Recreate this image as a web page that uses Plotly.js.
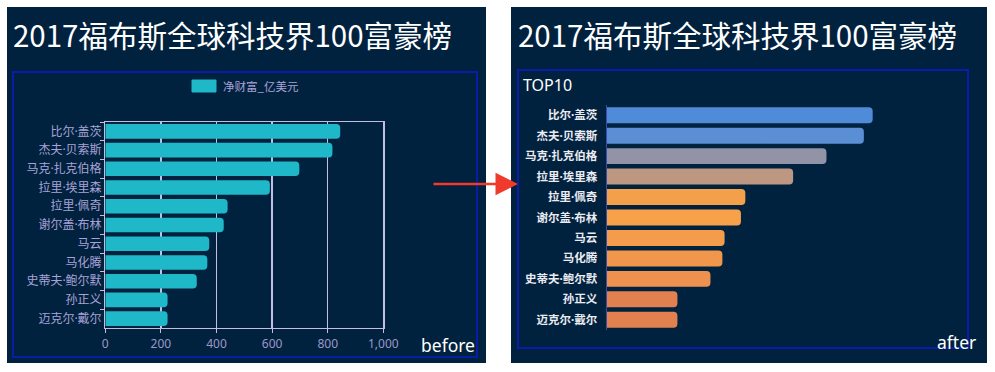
<!DOCTYPE html>
<html>
<head>
<meta charset="utf-8">
<script src="https://cdn.plot.ly/plotly-3.0.1.min.js"></script>
<style>html,body{margin:0;padding:0;background:#fff;}#chart{width:995px;height:372px;}</style>
</head>
<body>
<div id="chart"></div>
<script>
// ---- data ----
const names = ['比尔·盖茨','杰夫·贝索斯','马克·扎克伯格','拉里·埃里森','拉里·佩奇','谢尔盖·布林','马云','马化腾','史蒂夫·鲍尔默','孙正义','迈克尔·戴尔'];
const wealth = [845, 817, 698, 592, 440, 426, 374, 367, 329, 224, 224];
const seriesName = '净财富_亿美元';
const chartTitle = '2017福布斯全球科技界100富豪榜';
const afterColors = ['#4f8bd8','#5a8fd6','#9393a8','#bd9782','#f4a04b','#f7a24a','#f39c4b','#f1974c','#ee914e','#e2804f','#e2804f'];
const xTicks = [0, 200, 400, 600, 800, 1000];

// ---- layout helpers (pixel -> paper) ----
const W = 995, H = 372;
const X = p => p / W;
const Y = p => 1 - p / H;
const FONT = '"Noto Sans CJK SC", "Noto Sans", sans-serif';
const LABELFONT = '"Noto Sans", "Noto Sans CJK SC", sans-serif';
const BG = '#01223e';

const traces = [
  {
    type: 'bar', orientation: 'h', name: seriesName,
    y: names, x: wealth, xaxis: 'x', yaxis: 'y',
    marker: {color: '#1fb8c8', cornerradius: 4},
    showlegend: false, hoverinfo: 'x+y'
  },
  {
    type: 'bar', orientation: 'h', name: seriesName,
    y: names, x: wealth, xaxis: 'x2', yaxis: 'y2',
    marker: {color: afterColors, cornerradius: 4},
    showlegend: false, hoverinfo: 'x+y'
  }
];

const frameColor = '#c6bee0';
const layout = {
  width: W, height: H,
  margin: {l: 0, r: 0, t: 0, b: 0},
  paper_bgcolor: '#ffffff',
  plot_bgcolor: 'rgba(0,0,0,0)',
  font: {family: FONT},
  bargap: 0.22,
  xaxis: {
    domain: [X(105.3), X(383.3)], anchor: 'y',
    range: [0, 1000], tickvals: xTicks, separatethousands: true,
    showgrid: true, gridcolor: frameColor, gridwidth: 1.3,
    showline: true, linecolor: frameColor, linewidth: 1.3, mirror: true,
    zeroline: false, ticks: 'outside', ticklen: 4, tickcolor: frameColor,
    tickfont: {color: '#9d97c9', size: 12, family: LABELFONT}
  },
  yaxis: {
    domain: [Y(328), Y(122)], anchor: 'x',
    type: 'category', autorange: 'reversed',
    showline: true, linecolor: frameColor, linewidth: 1.3, mirror: true,
    tickson: 'boundaries', ticks: 'outside', ticklen: 4, tickcolor: frameColor,
    showgrid: false, zeroline: false,
    tickfont: {color: '#a9a2d8', size: 12, family: LABELFONT}
  },
  xaxis2: {
    domain: [X(607), X(921.4)], anchor: 'y2',
    range: [0, 1000], visible: false
  },
  yaxis2: {
    domain: [Y(330), Y(105)], anchor: 'x2',
    type: 'category', autorange: 'reversed',
    showline: true, linecolor: '#3c4ea4', linewidth: 1.5,
    ticks: '', showgrid: false, zeroline: false,
    ticklabelstandoff: 6,
    tickfont: {color: '#ebebf2', size: 11.5, family: LABELFONT, weight: 'bold'}
  },
  shapes: [
    {type: 'rect', xref: 'paper', yref: 'paper', layer: 'below',
     x0: X(7), x1: X(486), y0: Y(363), y1: Y(7), fillcolor: BG, line: {width: 0}},
    {type: 'rect', xref: 'paper', yref: 'paper', layer: 'below',
     x0: X(511), x1: X(987), y0: Y(363), y1: Y(7), fillcolor: BG, line: {width: 0}},
    {type: 'rect', xref: 'paper', yref: 'paper', layer: 'below',
     x0: X(13), x1: X(477), y0: Y(357), y1: Y(72), line: {color: '#0a1ca8', width: 2}},
    {type: 'rect', xref: 'paper', yref: 'paper', layer: 'below',
     x0: X(518), x1: X(968), y0: Y(348), y1: Y(70), line: {color: '#0a1ca8', width: 2}},
    // legend swatch
    {type: 'rect', xref: 'paper', yref: 'paper', layer: 'above',
     x0: X(192), x1: X(216), y0: Y(92), y1: Y(80), fillcolor: '#1fb8c8', line: {color: '#1fb8c8', width: 1}}
  ],
  annotations: [
    {xref: 'paper', yref: 'paper', x: X(11), y: Y(34), xanchor: 'left', yanchor: 'middle',
     text: chartTitle, showarrow: false, font: {color: '#ffffff', size: 29.5, family: FONT}},
    {xref: 'paper', yref: 'paper', x: X(516), y: Y(34), xanchor: 'left', yanchor: 'middle',
     text: chartTitle, showarrow: false, font: {color: '#ffffff', size: 29.5, family: FONT}},
    {xref: 'paper', yref: 'paper', x: X(221), y: Y(86), xanchor: 'left', yanchor: 'middle',
     text: seriesName, showarrow: false, font: {color: '#a9a2d8', size: 11.5, family: FONT}},
    {xref: 'paper', yref: 'paper', x: X(521), y: Y(85), xanchor: 'left', yanchor: 'middle',
     text: 'TOP10', showarrow: false, font: {color: '#ffffff', size: 16, family: '"Noto Sans", sans-serif'}},
    {xref: 'paper', yref: 'paper', x: X(419), y: Y(345), xanchor: 'left', yanchor: 'middle',
     text: 'before', showarrow: false, font: {color: '#ffffff', size: 17.5, family: '"Noto Sans", sans-serif'}},
    {xref: 'paper', yref: 'paper', x: X(935), y: Y(342), xanchor: 'left', yanchor: 'middle',
     text: 'after', showarrow: false, font: {color: '#ffffff', size: 17.5, family: '"Noto Sans", sans-serif'}},
    {xref: 'paper', yref: 'paper', x: X(518), y: Y(184), text: '', showarrow: true,
     ax: -86, ay: 0, arrowcolor: '#f03a2e', arrowwidth: 2.5, arrowhead: 2, arrowsize: 1.8, standoff: 0}
  ]
};

Plotly.newPlot('chart', traces, layout, {displayModeBar: false, staticPlot: true});
</script>
</body>
</html>
